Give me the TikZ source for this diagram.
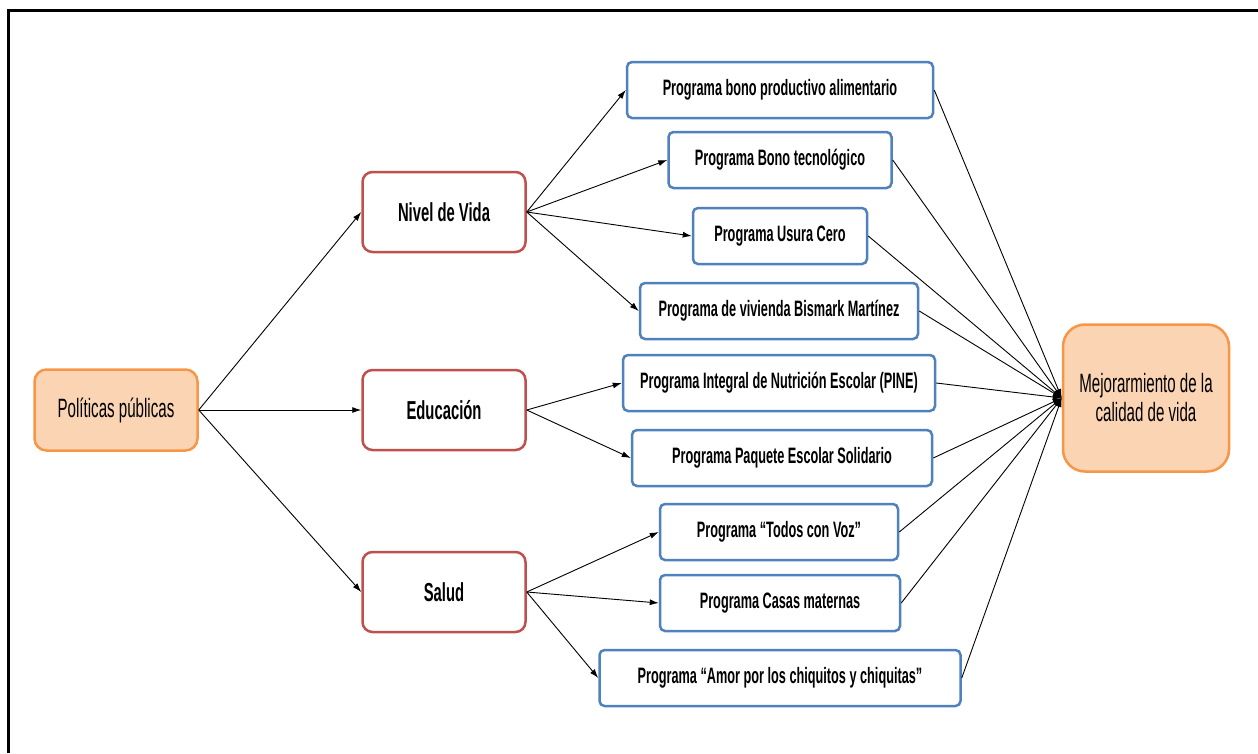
\documentclass[tikz,border=0pt]{standalone}
\usepackage{fontspec}
\setmainfont[FakeStretch=0.57]{Liberation Sans}
\usetikzlibrary{arrows.meta}
\definecolor{orfill}{HTML}{FBD4B4}
\definecolor{ordraw}{HTML}{F79646}
\definecolor{reddraw}{HTML}{C0504D}
\definecolor{bluedraw}{HTML}{4F81BD}
\tikzset{
  orangebox/.style={draw=ordraw, fill=orfill, line width=2.5pt, rounded corners=12pt, inner sep=0pt, align=center, font=\fontsize{26.5}{29}\selectfont},
  redbox/.style={draw=reddraw, fill=white, line width=2.5pt, rounded corners=10pt, minimum width=163pt, minimum height=80pt, inner sep=0pt, font=\fontsize{26}{29}\selectfont\bfseries},
  progbox/.style={draw=bluedraw, fill=white, line width=2.5pt, rounded corners=5pt, minimum height=56pt, inner sep=0pt, font=\fontsize{22.3}{25}\selectfont\bfseries},
  conn/.style={draw=black, line width=0.9pt, -{Latex[length=9pt,width=6pt]}},
  frameline/.style={draw=black, line width=3pt}
}
\begin{document}
\begin{tikzpicture}[x=1pt,y=-1pt]
\useasboundingbox (0,0) rectangle (1258,753);
\draw[frameline] (8,753) -- (8,10) -- (1258,10);

\node[orangebox, minimum width=163pt, minimum height=81pt] (pol) at (116,410) {Políticas públicas};
\node[redbox] (niv) at (444,212) {Nivel de Vida};
\node[redbox] (edu) at (444,410) {Educación};
\node[redbox] (sal) at (444,592) {Salud};

\node[progbox, minimum width=306pt] (p1) at (780,90) {Programa bono productivo alimentario};
\node[progbox, minimum width=223pt] (p2) at (780,160) {Programa Bono tecnológico};
\node[progbox, minimum width=174pt] (p3) at (780,236) {Programa Usura Cero};
\node[progbox, minimum width=278pt] (p4) at (779,311) {Programa de vivienda Bismark Martínez};
\node[progbox, minimum width=312pt] (p5) at (779,383) {Programa Integral de Nutrición Escolar (PINE)};
\node[progbox, minimum width=300pt] (p6) at (782,458) {Programa Paquete Escolar Solidario};
\node[progbox, minimum width=238pt] (p7) at (779,532) {Programa “Todos con Voz”};
\node[progbox, minimum width=240pt] (p8) at (780,603) {Programa Casas maternas};
\node[progbox, minimum width=361pt] (p9) at (780,678) {Programa “Amor por los chiquitos y chiquitas”};

\node[orangebox, rounded corners=22pt, minimum width=166pt, minimum height=147pt] (mej) at (1146,398) {Mejorarmiento de la\\calidad de vida};
\coordinate (mj) at (mej.west);

\draw[conn] (pol.east) -- (niv.west);
\draw[conn] (pol.east) -- (edu.west);
\draw[conn] (pol.east) -- (sal.west);

\draw[conn] (niv.east) -- (p1.west);
\draw[conn] (niv.east) -- (p2.west);
\draw[conn] (niv.east) -- (p3.west);
\draw[conn] (niv.east) -- (p4.west);
\draw[conn] (edu.east) -- (p5.west);
\draw[conn] (edu.east) -- (p6.west);
\draw[conn] (sal.east) -- (p7.west);
\draw[conn] (sal.east) -- (p8.west);
\draw[conn] (sal.east) -- (p9.west);

\foreach \p in {p1,p2,p3,p4,p5,p6,p7,p8,p9}
  \draw[conn] (\p.east) -- (mj);
\end{tikzpicture}
\end{document}
